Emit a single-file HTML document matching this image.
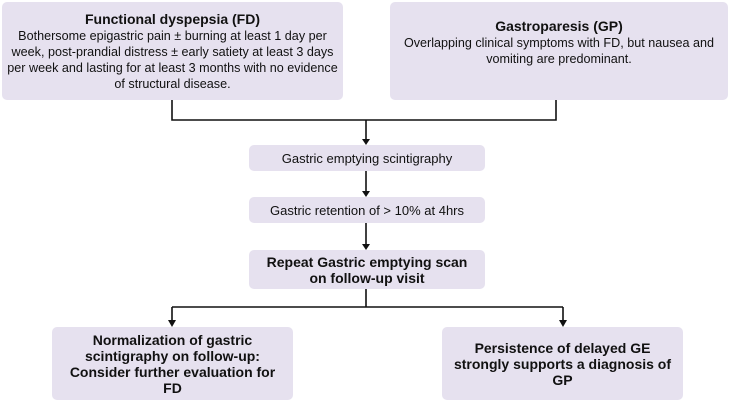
<!DOCTYPE html>
<html><head><style>
body{margin:0;width:732px;height:402px;background:#fff;position:relative;overflow:hidden;font-family:"Liberation Sans",Arial,sans-serif;color:#111}
.b{position:absolute;background:#e6e1ef;border-radius:5px;display:flex;align-items:center;justify-content:center;text-align:center;box-sizing:border-box}
.top{font-size:12.6px;line-height:16px;padding:0 4px}
.top b{font-size:14px}
.n{font-family:"Liberation Sans Narrow","Liberation Sans",sans-serif;font-size:13px}
.nb{font-family:"Liberation Sans Narrow","Liberation Sans",sans-serif;font-weight:bold;font-size:14px;line-height:16px}
svg{position:absolute;left:0;top:0}
</style></head><body>
<div class="b top" style="left:2px;top:2px;width:341px;height:98px"><div><b>Functional dyspepsia (FD)</b><br>Bothersome epigastric pain ± burning at least 1 day per week, post-prandial distress ± early satiety at least 3 days per week and lasting for at least 3 months with no evidence of structural disease.</div></div>
<div class="b top" style="left:390px;top:2px;width:338px;height:98px;padding-bottom:18px"><div><b>Gastroparesis (GP)</b><br>Overlapping clinical symptoms with FD, but nausea and vomiting are predominant.</div></div>
<div class="b n" style="left:249px;top:145px;width:236px;height:26px">Gastric emptying scintigraphy</div>
<div class="b n" style="left:249px;top:197px;width:236px;height:26px">Gastric retention of &gt; 10% at 4hrs</div>
<div class="b nb" style="left:249px;top:250px;width:236px;height:39px">Repeat Gastric emptying scan<br>on follow-up visit</div>
<div class="b nb" style="left:52px;top:327px;width:241px;height:73px">Normalization of gastric<br>scintigraphy on follow-up:<br>Consider further evaluation for<br>FD</div>
<div class="b nb" style="left:442px;top:327px;width:241px;height:73px">Persistence of delayed GE<br>strongly supports a diagnosis of<br>GP</div>
<svg width="732" height="402">
<g stroke="#111" stroke-width="1.6" fill="none">
<path d="M172 100V120H556V100"/>
<path d="M366 120V140"/>
<path d="M366 171V192"/>
<path d="M366 223V245"/>
<path d="M366 289V307M172 307H563M172 307V322M563 307V322"/>
</g>
<g fill="#111">
<path d="M362 139L370 139L366 145Z"/>
<path d="M362 191L370 191L366 197Z"/>
<path d="M362 244L370 244L366 250Z"/>
<path d="M168 320L176 320L172 327Z"/>
<path d="M559 320L567 320L563 327Z"/>
</g>
</svg>
</body></html>
